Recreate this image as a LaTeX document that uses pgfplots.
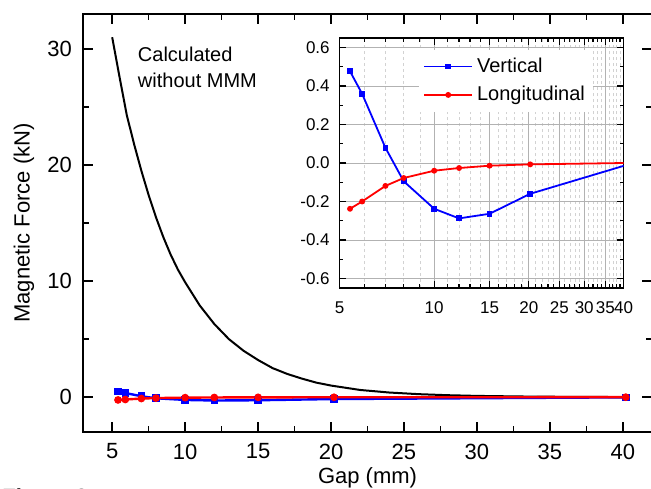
\documentclass[border=0pt]{standalone}
\usepackage{pgfplots}
\usepackage{pgfplotstable}
\pgfplotsset{compat=1.18}
\usepackage{fontspec}
\setmainfont{Liberation Sans}

\pgfplotstableread{
x y
5.0 31.0
5.5 27.6
6.0 24.3
6.5 21.8
7.0 19.5
7.5 17.4
8.0 15.5
8.5 13.8
9.0 12.3
9.5 11.0
10 9.9
11 7.9
12 6.3
13 5.0
14 4.0
15 3.2
16 2.5
17 2.0
18 1.6
19 1.25
20 1.0
22 0.62
24 0.40
26 0.26
28 0.17
30 0.11
33 0.06
36 0.03
40 0.01
}\calc

\pgfplotstableread{
x y
5.4 0.477
5.9 0.36
7 0.079
8 -0.095
10 -0.238
12 -0.288
15 -0.264
20.2 -0.16
40.2 -0.014
}\vert

\pgfplotstableread{
x y
5.4 -0.238
5.9 -0.2
7 -0.119
8 -0.078
10 -0.04
12 -0.026
15 -0.014
20.2 -0.007
40.2 0.0
}\longi

\begin{document}
\begin{tikzpicture}
\begin{axis}[
  at={(0,0)}, anchor=south west,
  scale only axis, width=284.5pt, height=209pt,
  xmin=3, xmax=42, ymin=-3, ymax=33,
  xtick={5,10,...,40}, ytick={0,10,20,30},
  minor x tick num=1, minor y tick num=1,
  tick align=inside,
  major tick length=5pt, minor tick length=3pt,
  axis line style={line width=0.85pt},
  every tick/.style={black, line width=0.7pt},
  /pgf/number format/assume math mode=true,
  tick label style={font=\fontsize{11}{13}\selectfont},
  xticklabel style={yshift=-2.3pt},
  yticklabel style={xshift=-2pt},
  xlabel={Gap (mm)},
  ylabel={Magnetic Force (kN)},
  label style={font=\fontsize{11}{13}\selectfont},
  x label style={at={(axis description cs:0.5,0)}, anchor=north, yshift=-14.3pt},
  y label style={at={(axis description cs:-0.1343,0.5)}, anchor=north, rotate=0},
  clip=true,
]
\addplot[black, line width=1pt] table {\calc};
\addplot[blue, line width=1.2pt, mark=square*, mark size=1.3pt] table {\vert};
\addplot[red, line width=1.2pt, mark=*, mark size=1.3pt] table {\longi};
\node[anchor=base west, inner sep=0, font=\fontsize{10}{12}\selectfont] at (axis cs:6.74,28.9) {Calculated};
\node[anchor=base west, inner sep=0, font=\fontsize{10}{12}\selectfont] at (axis cs:6.74,26.64) {without MMM};
\end{axis}

\begin{axis}[
  at={(128.25pt,72pt)}, anchor=south west,
  scale only axis, width=142pt, height=125pt,
  xmode=log, xmin=5, xmax=40, ymin=-0.65, ymax=0.65,
  axis background/.style={fill=white},
  xtick={5,10,15,20,25,30,35,40},
  xticklabels={5,10,15,20,25,30,35,40},
  minor xtick={6,7,8,9,11,12,13,14,16,17,18,19,21,22,23,24,26,27,28,29,31,32,33,34,36,37,38,39},
  ytick={-0.6,-0.4,-0.2,0,0.2,0.4,0.6},
  yticklabels={-0.6,-0.4,-0.2,0.0,0.2,0.4,0.6},
  minor ytick={-0.5,-0.3,-0.1,0.1,0.3,0.5},
  tick align=inside,
  major tick length=3.5pt, minor tick length=2pt,
  axis line style={line width=0.75pt},
  every tick/.style={black, line width=0.6pt},
  xmajorgrids=true, ymajorgrids=true, xminorgrids=true,
  major grid style={gray!60, line width=0.4pt},
  minor grid style={gray!35, dash pattern=on 1.5pt off 1.5pt, line width=0.25pt},
  tick label style={font=\fontsize{8.5}{10}\selectfont},
  xticklabel style={yshift=-3.3pt},
  yticklabel style={xshift=-1.4pt},
  legend style={at={(rel axis cs:0.28,0.955)}, anchor=north west, draw=none, fill=white,
    font=\fontsize{10}{12}\selectfont, row sep=1.5pt, inner sep=2pt},
  legend cell align=left,
  legend image code/.code={\draw[mark repeat=2,mark phase=2,#1] plot coordinates {(0cm,0cm) (0.42cm,0cm) (0.84cm,0cm)};},
]
\addplot[blue, line width=0.9pt, mark=square*, mark size=1pt] table {\vert};
\addlegendentry{Vertical}
\addplot[red, line width=0.9pt, mark=*, mark size=1pt] table {\longi};
\addlegendentry{Longitudinal}
\end{axis}

\node[anchor=base west, inner sep=0, font=\bfseries\fontsize{11}{13}\selectfont, text=black!80] at (-40.5pt,-36pt) {Figure 9};
\pgfresetboundingbox
\useasboundingbox (-41.5pt,-28pt) rectangle (284pt,216pt);
\end{tikzpicture}
\end{document}
